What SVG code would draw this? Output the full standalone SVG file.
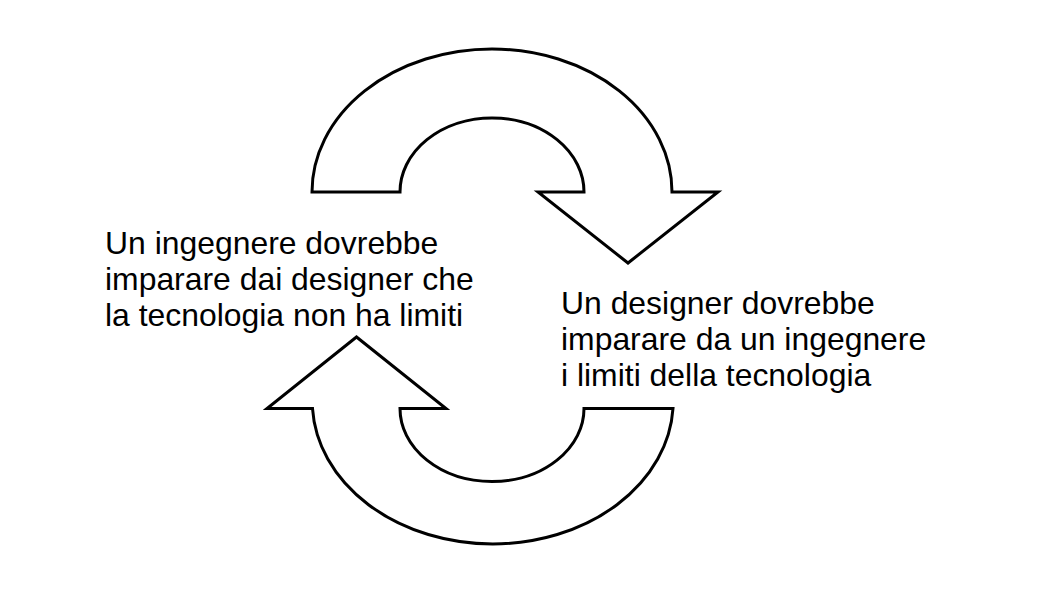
<svg xmlns="http://www.w3.org/2000/svg" width="1058" height="595" viewBox="0 0 1058 595">
<style>
.arrow{fill:#ffffff;stroke:#000000;stroke-width:3;stroke-linejoin:miter}
.lbl{font-family:"Liberation Sans",Arial,sans-serif;font-size:31.9px;fill:#000000}
</style>
<rect width="1058" height="595" fill="#ffffff"/>
<g id="connectors">
<g id="arrow-top">
<path class="arrow" d="M312,192 A180,143 0 0 1 672,192 L718,192 L628,263 L538,192 L584,192 A92,74 0 0 0 400,192 Z"/>
</g>
<g id="arrow-bottom">
<path class="arrow" d="M673,408.5 A180.5,143 0 0 1 312.5,408.5 L267,408.5 L356.5,337 L446,408.5 L400,408.5 A92,73 0 0 0 584,408.5 Z"/>
</g>
</g>
<g id="node-engineer">
<text class="lbl" x="105" y="254.3">Un ingegnere dovrebbe</text>
<text class="lbl" x="105" y="290">imparare dai designer che</text>
<text class="lbl" x="105" y="325.7">la tecnologia non ha limiti</text>
</g>
<g id="node-designer">
<text class="lbl" x="561" y="314.3">Un designer dovrebbe</text>
<text class="lbl" x="561" y="350">imparare da un ingegnere</text>
<text class="lbl" x="561" y="385.7">i limiti della tecnologia</text>
</g>
</svg>
